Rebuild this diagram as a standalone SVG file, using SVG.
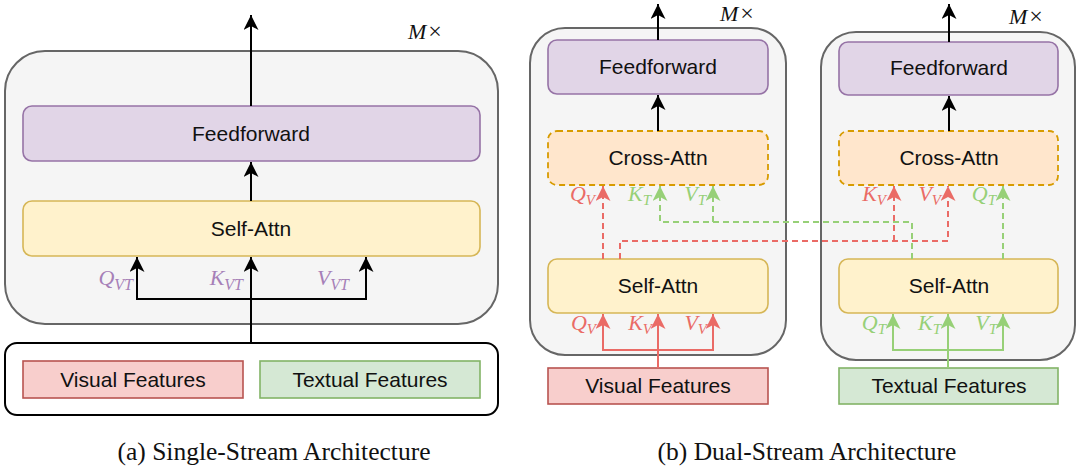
<svg xmlns="http://www.w3.org/2000/svg" width="1080" height="472" viewBox="0 0 1080 472">
<style>
.cont{fill:#f5f5f5;stroke:#666;stroke-width:2}
.ff{fill:#e1d5e7;stroke:#9673a6;stroke-width:1.6}
.sa{fill:#fff2cc;stroke:#d6b656;stroke-width:1.6}
.ca{fill:#ffe6cc;stroke:#d79b00;stroke-width:1.8;stroke-dasharray:6 4}
.vf{fill:#f8cecc;stroke:#b85450;stroke-width:1.6}
.tf{fill:#d5e8d4;stroke:#82b366;stroke-width:1.6}
.t{font-family:"Liberation Sans",Arial,sans-serif;font-size:21px;fill:#111;text-anchor:middle}
.cap{font-family:"Liberation Serif","Times New Roman",serif;font-size:25.5px;fill:#111;text-anchor:middle}
.mx{font-family:"Liberation Serif","Times New Roman",serif;font-size:22px;fill:#111}
.m{font-family:"Liberation Serif","Times New Roman",serif;font-style:italic;text-anchor:end}
.big{font-size:22px}
.sm{font-size:22px}
.pu{fill:#a680b8}.rd{fill:#ea6b66}.gr{fill:#97d077}
.k{fill:none;stroke:#000;stroke-width:2}
.r{fill:none;stroke:#ea6b66;stroke-width:2}
.g{fill:none;stroke:#97d077;stroke-width:2}
.dash{stroke-dasharray:6 4}
</style>
<defs>
<marker id="ak" markerUnits="userSpaceOnUse" markerWidth="16" markerHeight="15" viewBox="0 0 16 15" refX="15" refY="7.5" orient="auto"><path d="M0,0 L15,7.5 L0,15 L4,7.5 Z" fill="#000"/></marker>
<marker id="ar" markerUnits="userSpaceOnUse" markerWidth="16" markerHeight="15" viewBox="0 0 16 15" refX="15" refY="7.5" orient="auto"><path d="M0,0 L15,7.5 L0,15 L4,7.5 Z" fill="#ea6b66"/></marker>
<marker id="ag" markerUnits="userSpaceOnUse" markerWidth="16" markerHeight="15" viewBox="0 0 16 15" refX="15" refY="7.5" orient="auto"><path d="M0,0 L15,7.5 L0,15 L4,7.5 Z" fill="#97d077"/></marker>
</defs>

<!-- (a) Single-stream -->
<g id="a-container"><rect class="cont" x="5" y="51" width="493" height="273" rx="40"/></g>
<g id="a-input"><rect x="5" y="343" width="493" height="72" rx="12" fill="#fff" stroke="#000" stroke-width="2"/></g>
<g id="a-ff"><rect class="ff" x="23" y="106" width="457" height="55" rx="9"/><text class="t" x="251" y="141">Feedforward</text></g>
<g id="a-sa"><rect class="sa" x="23" y="201" width="457" height="55" rx="9"/><text class="t" x="251" y="236">Self-Attn</text></g>
<g id="a-vf"><rect class="vf" x="23" y="361" width="220" height="37"/><text class="t" x="133" y="387">Visual Features</text></g>
<g id="a-tf"><rect class="tf" x="260" y="361" width="220" height="37"/><text class="t" x="370" y="387">Textual Features</text></g>
<g id="a-labels">
<text class="mx" x="408" y="39"><tspan font-style="italic">M</tspan><tspan dx="2" font-size="24">×</tspan></text>
<text class="m big pu" x="133" y="285">Q<tspan font-size="16" dy="5">VT</tspan></text>
<text class="m big pu" x="243" y="285">K<tspan font-size="16" dy="5">VT</tspan></text>
<text class="m big pu" x="349" y="285">V<tspan font-size="16" dy="5">VT</tspan></text>
<text class="cap" x="274" y="460">(a) Single-Stream Architecture</text>
</g>

<!-- (b) Dual-stream -->
<g id="b-cont-v"><rect class="cont" x="530" y="28" width="256" height="327" rx="35"/></g>
<g id="b-cont-t"><rect class="cont" x="821" y="32" width="254" height="328" rx="35"/></g>
<g id="b-ff-v"><rect class="ff" x="548" y="40" width="220" height="54" rx="9"/><text class="t" x="658" y="74">Feedforward</text></g>
<g id="b-ca-v"><rect class="ca" x="548" y="131" width="220" height="54" rx="9"/><text class="t" x="658" y="165">Cross-Attn</text></g>
<g id="b-sa-v"><rect class="sa" x="548" y="259" width="220" height="54" rx="9"/><text class="t" x="658" y="293">Self-Attn</text></g>
<g id="b-vf"><rect class="vf" x="548" y="368" width="220" height="36"/><text class="t" x="658" y="393">Visual Features</text></g>
<g id="b-ff-t"><rect class="ff" x="839" y="42" width="219" height="53" rx="9"/><text class="t" x="949" y="75">Feedforward</text></g>
<g id="b-ca-t"><rect class="ca" x="839" y="131" width="219" height="54" rx="9"/><text class="t" x="949" y="165">Cross-Attn</text></g>
<g id="b-sa-t"><rect class="sa" x="839" y="259" width="219" height="54" rx="9"/><text class="t" x="949" y="293">Self-Attn</text></g>
<g id="b-tf"><rect class="tf" x="839" y="368" width="219" height="36"/><text class="t" x="949" y="393">Textual Features</text></g>

<g id="connectors">
<path class="k" d="M251,106 V15" marker-end="url(#ak)"/>
<path class="k" d="M251,201 V162" marker-end="url(#ak)"/>
<path class="k" d="M251,343 V257" marker-end="url(#ak)"/>
<path class="k" d="M251,299 H137 V257" marker-end="url(#ak)"/>
<path class="k" d="M251,299 H366 V257" marker-end="url(#ak)"/>

<path class="k" d="M658,40 V4" marker-end="url(#ak)"/>
<path class="k" d="M658,131 V95" marker-end="url(#ak)"/>
<path class="k" d="M949,42 V4" marker-end="url(#ak)"/>
<path class="k" d="M949,131 V96" marker-end="url(#ak)"/>

<path class="r" d="M658,368 V314" marker-end="url(#ar)"/>
<path class="r" d="M658,350 H603 V314" marker-end="url(#ar)"/>
<path class="r" d="M658,350 H713 V314" marker-end="url(#ar)"/>
<path class="g" d="M948,368 V314" marker-end="url(#ag)"/>
<path class="g" d="M948,350 H893 V314" marker-end="url(#ag)"/>
<path class="g" d="M948,350 H1003 V314" marker-end="url(#ag)"/>

<path class="r dash" d="M603,259 V186" marker-end="url(#ar)"/>
<path class="r dash" d="M620,259 V241 H948 V186" marker-end="url(#ar)"/>
<path class="r dash" d="M894,241 V186" marker-end="url(#ar)"/>
<path class="g dash" d="M912,259 V222 H660 V186" marker-end="url(#ag)"/>
<path class="g dash" d="M713,222 V186" marker-end="url(#ag)"/>
<path class="g dash" d="M1003,259 V186" marker-end="url(#ag)"/>
</g>

<g id="b-labels">
<text class="mx" x="720" y="21"><tspan font-style="italic">M</tspan><tspan dx="2" font-size="24">×</tspan></text>
<text class="mx" x="1009" y="24"><tspan font-style="italic">M</tspan><tspan dx="2" font-size="24">×</tspan></text>
<text class="m sm rd" x="595" y="201">Q<tspan font-size="15" dy="4">V</tspan></text>
<text class="m sm gr" x="651" y="201">K<tspan font-size="15" dy="4">T</tspan></text>
<text class="m sm gr" x="706" y="201">V<tspan font-size="15" dy="4">T</tspan></text>
<text class="m sm rd" x="886" y="201">K<tspan font-size="15" dy="4">V</tspan></text>
<text class="m sm rd" x="941" y="201">V<tspan font-size="15" dy="4">V</tspan></text>
<text class="m sm gr" x="996" y="201">Q<tspan font-size="15" dy="4">T</tspan></text>
<text class="m sm rd" x="596" y="330">Q<tspan font-size="15" dy="4">V</tspan></text>
<text class="m sm rd" x="652" y="330">K<tspan font-size="15" dy="4">V</tspan></text>
<text class="m sm rd" x="707" y="330">V<tspan font-size="15" dy="4">V</tspan></text>
<text class="m sm gr" x="886" y="330">Q<tspan font-size="15" dy="4">T</tspan></text>
<text class="m sm gr" x="941" y="330">K<tspan font-size="15" dy="4">T</tspan></text>
<text class="m sm gr" x="997" y="330">V<tspan font-size="15" dy="4">T</tspan></text>
<text class="cap" x="807" y="460">(b) Dual-Stream Architecture</text>
</g>
</svg>
